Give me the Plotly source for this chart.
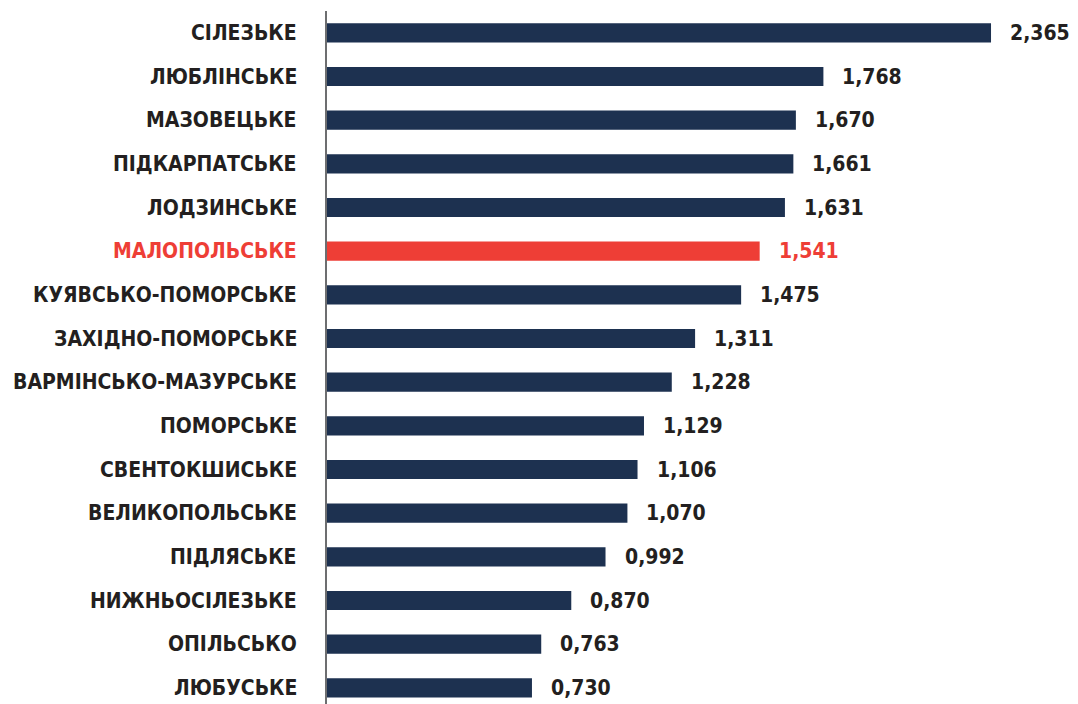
import plotly.graph_objects as go

categories = ["СІЛЕЗЬКЕ", "ЛЮБЛІНСЬКЕ", "МАЗОВЕЦЬКЕ", "ПІДКАРПАТСЬКЕ", "ЛОДЗИНСЬКЕ",
              "МАЛОПОЛЬСЬКЕ", "КУЯВСЬКО-ПОМОРСЬКЕ", "ЗАХІДНО-ПОМОРСЬКЕ",
              "ВАРМІНСЬКО-МАЗУРСЬКЕ", "ПОМОРСЬКЕ", "СВЕНТОКШИСЬКЕ", "ВЕЛИКОПОЛЬСЬКЕ",
              "ПІДЛЯСЬКЕ", "НИЖНЬОСІЛЕЗЬКЕ", "ОПІЛЬСЬКО", "ЛЮБУСЬКЕ"]
values = [2.365, 1.768, 1.670, 1.661, 1.631, 1.541, 1.475, 1.311,
          1.228, 1.129, 1.106, 1.070, 0.992, 0.870, 0.763, 0.730]
highlight = "МАЛОПОЛЬСЬКЕ"

NAVY = "#1d3150"
RED = "#ee3e36"
TEXT = "#231f20"
FONT = "DejaVu Sans Condensed, Roboto Condensed, Liberation Sans Narrow, Roboto, sans-serif"

colors = [RED if c == highlight else NAVY for c in categories]
txtcolors = [RED if c == highlight else TEXT for c in categories]

fig = go.Figure(go.Bar(
    y=categories, x=values, orientation="h",
    marker=dict(color=colors, line=dict(width=0)),
    width=0.44,
))

annotations = []
for c, v, tc in zip(categories, values, txtcolors):
    annotations.append(dict(
        x=v, y=c, xref="x", yref="y", text=f"<b>{v:.3f}</b>".replace(".", ","),
        showarrow=False, xanchor="left", yanchor="middle", xshift=17,
        font=dict(family=FONT, size=21, color=tc)))
    annotations.append(dict(
        x=0, y=c, xref="paper", yref="y", text=f"<b>{c}</b>",
        showarrow=False, xanchor="right", yanchor="middle", xshift=-28,
        font=dict(family=FONT, size=21, color=tc)))

fig.update_layout(
    width=1070, height=696,
    margin=dict(l=319, r=21, t=3, b=0),
    plot_bgcolor="white", paper_bgcolor="white",
    showlegend=False,
    xaxis=dict(range=[0, 2.6], showgrid=False, zeroline=False, showticklabels=False,
               showline=False),
    yaxis=dict(type="category", range=[15.37, -0.5], showticklabels=False,
               showgrid=False, zeroline=False, showline=True, linecolor="#6d6e70",
               linewidth=1.5, ticks=""),
    annotations=annotations,
)

fig.write_html("out.html")
